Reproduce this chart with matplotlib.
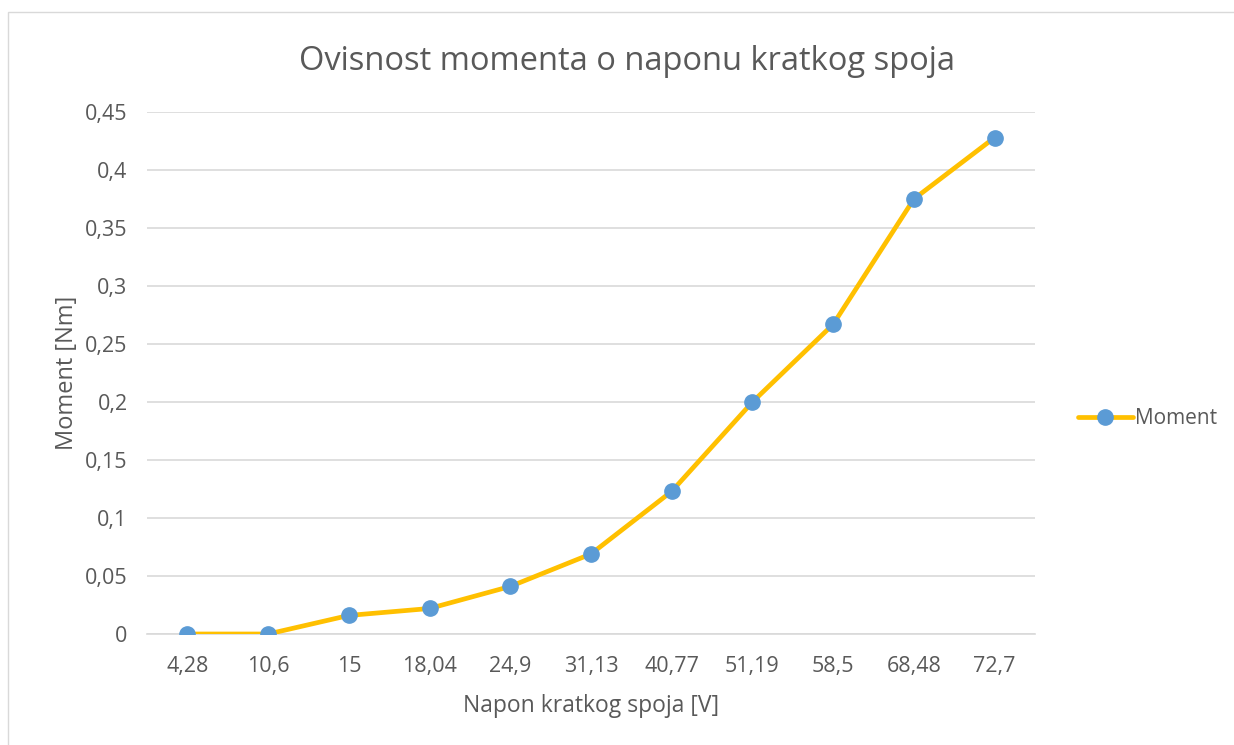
import numpy as np
import matplotlib
matplotlib.use("Agg")
import matplotlib.pyplot as plt
from matplotlib.patches import Rectangle

# data
napon_labels = ["4,28", "10,6", "15", "18,04", "24,9", "31,13",
                "40,77", "51,19", "58,5", "68,48", "72,7"]
moment = [0.0, 0.0, 0.016, 0.022, 0.041, 0.069,
          0.123, 0.200, 0.267, 0.375, 0.428]
y_ticks = [0, 0.05, 0.1, 0.15, 0.2, 0.25, 0.3, 0.35, 0.4, 0.45]

TEXT = "#595959"
GRID = "#d9d9d9"
LINE = "#ffc000"
MARK = "#5b9bd5"

plt.rcParams["font.family"] = ["Open Sans", "DejaVu Sans"]

fig = plt.figure(figsize=(12.34, 7.45), dpi=100)
ax = fig.add_axes([147 / 1234, 1 - 634 / 745, (1035 - 147) / 1234, (634 - 112) / 745])

# chart area border (right and bottom edges fall outside the picture)
fig.patches.append(Rectangle((8 / 1234, -0.01), 1.02, 1.01 - 12 / 745,
                             transform=fig.transFigure, fill=False,
                             edgecolor=GRID, linewidth=1, clip_on=False))

x = np.arange(len(napon_labels))
ax.plot(x, moment, color=LINE, linewidth=3.4, marker="o", markersize=11,
        markerfacecolor=MARK, markeredgecolor=MARK, label="Moment",
        solid_capstyle="round", zorder=3)

ax.set_xlim(-0.5, len(napon_labels) - 0.5)
ax.set_ylim(0, 0.45)
ax.set_xticks(x)
ax.set_xticklabels(napon_labels)
ax.set_yticks(y_ticks)
ax.set_yticklabels([("%g" % v).replace(".", ",") for v in y_ticks])
ax.tick_params(length=0, colors=TEXT, labelsize=15.5)
ax.tick_params(axis="x", pad=16)
ax.tick_params(axis="y", pad=14)
ax.grid(True, axis="y", color=GRID, linewidth=1.2)
ax.set_axisbelow(True)
for s in ("top", "right", "left"):
    ax.spines[s].set_visible(False)
ax.spines["bottom"].set_color(GRID)
ax.spines["bottom"].set_linewidth(1.2)

ax.set_xlabel("Napon kratkog spoja [V]", color=TEXT, fontsize=16.5, labelpad=12)
ax.set_ylabel("Moment [Nm]", color=TEXT, fontsize=17, labelpad=4)
fig.text(627 / 1234, 1 - 61 / 745, "Ovisnost momenta o naponu kratkog spoja",
         ha="center", va="center", color=TEXT, fontsize=23.5)

leg = fig.legend(loc="center left", bbox_to_anchor=(1070 / 1234, 1 - 419 / 745),
                 frameon=False, fontsize=15, handlelength=2.6,
                 handletextpad=0.1, borderaxespad=0)
for t in leg.get_texts():
    t.set_color(TEXT)

fig.savefig("out.png", dpi=100)
